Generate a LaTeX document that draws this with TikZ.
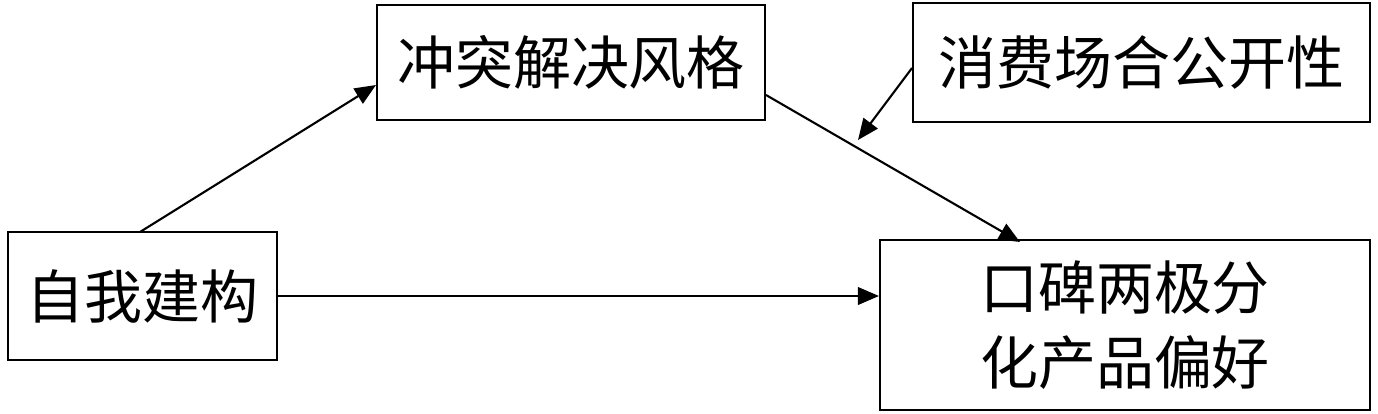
\documentclass[tikz,border=0pt]{standalone}
\usepackage{fontspec}
\setmainfont{Noto Sans CJK SC}
\usetikzlibrary{arrows.meta, positioning}

\begin{document}
\begin{tikzpicture}[x=0.02cm, y=-0.02cm,
		box/.style={draw, line width=1.2pt, inner sep=0pt, align=center, font=\fontsize{33}{43}\selectfont},
		link/.style={line width=1.2pt, -{Triangle[length=12pt, width=10pt]}}]
				\useasboundingbox (0,0) rectangle (1378,413);
				\node[box, minimum width=5.38cm, minimum height=2.56cm] (ziwo) at (142.5,296) {自我建构};
				\node[box, minimum width=7.76cm, minimum height=2.3cm] (chongtu) at (571,62.5) {冲突解决风格};
				\node[box, minimum width=9.14cm, minimum height=2.38cm] (xiaofei) at (1141.5,62.5) {消费场合公开性};
				\node[box, minimum width=9.8cm, minimum height=3.4cm] (koubei) at (1125,325) {口碑两极分\\化产品偏好};
				\coordinate (mid) at (858,140);
				\draw[link] (140,232) -- (chongtu.west |- 0,85);
				\draw[link] (chongtu.east |- 0,95) -- (1020,242);
				\draw[link] (ziwo.east |- 0,296) -- (koubei.west |- 0,296);
				\draw[link] (xiaofei.west |- 0,68) -- (mid);
			\end{tikzpicture}
\end{document}
